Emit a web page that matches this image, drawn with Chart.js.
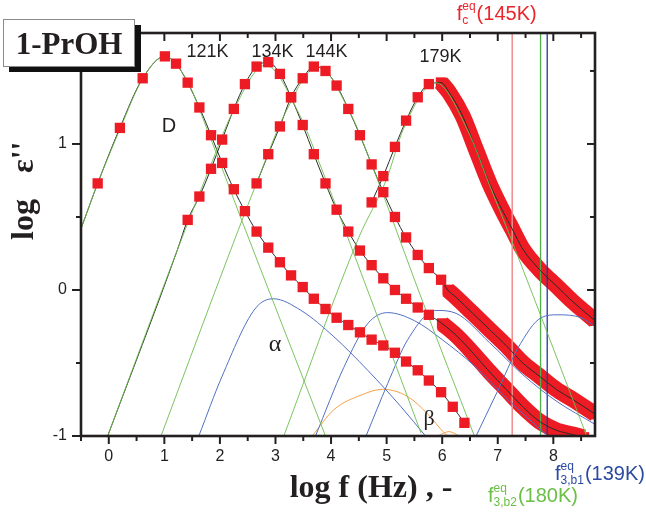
<!DOCTYPE html>
<html>
<head>
<meta charset="utf-8">
<script src="https://cdn.jsdelivr.net/npm/chart.js@4.4.1/dist/chart.umd.min.js"></script>
<style>
  html, body { margin: 0; padding: 0; background: #fff; }
  canvas { display: block; }
</style>
</head>
<body>
<canvas id="graficoEps" width="646" height="519"></canvas>
<script>
// ---- datos (log f en Hz, log eps'') ----
const freq121 = [-0.20, 0.20, 0.61, 1.01, 1.21, 1.42, 1.63, 1.84, 2.04, 2.25, 2.45, 2.66, 2.87, 3.08, 3.28, 3.49, 3.69, 3.90, 4.10, 4.31, 4.52, 4.73, 4.94, 5.15, 5.35, 5.56, 5.76, 5.98, 6.19, 6.40];
const eps121  = [0.73, 1.11, 1.45, 1.60, 1.55, 1.42, 1.25, 1.06, 0.87, 0.69, 0.54, 0.40, 0.29, 0.19, 0.10, 0.02, -0.06, -0.13, -0.19, -0.24, -0.29, -0.34, -0.38, -0.43, -0.49, -0.55, -0.62, -0.70, -0.80, -0.91];

const freq134 = [1.42, 1.63, 1.84, 2.04, 2.25, 2.45, 2.66, 2.87, 3.08, 3.28, 3.49, 3.69, 3.90, 4.10, 4.31, 4.52, 4.73, 4.94, 5.15, 5.35, 5.56, 5.76];
const eps134  = [0.48, 0.64, 0.83, 1.03, 1.24, 1.41, 1.53, 1.56, 1.48, 1.32, 1.13, 0.93, 0.73, 0.55, 0.40, 0.27, 0.17, 0.08, 0.00, -0.06, -0.12, -0.17];
const freq134Dense = [6.00, 6.25, 6.55, 6.85, 7.15, 7.45, 7.75, 8.05, 8.35, 8.55];
const eps134Dense  = [-0.23, -0.31, -0.43, -0.56, -0.68, -0.80, -0.90, -0.96, -0.99, -1.01];

const freq144 = [2.66, 2.87, 3.08, 3.28, 3.49, 3.69, 3.90, 4.10, 4.31, 4.52, 4.73, 4.94, 5.15, 5.35, 5.56, 5.76, 5.98];
const eps144  = [0.73, 0.93, 1.12, 1.32, 1.45, 1.53, 1.50, 1.40, 1.24, 1.06, 0.86, 0.67, 0.50, 0.36, 0.24, 0.15, 0.07];
const freq144Dense = [6.10, 6.25, 6.55, 6.85, 7.15, 7.45, 7.75, 8.05, 8.35, 8.75];
const eps144Dense  = [0.00, -0.05, -0.16, -0.27, -0.38, -0.50, -0.59, -0.68, -0.75, -0.85];

const freq179 = [4.73, 4.94, 5.15, 5.35, 5.56, 5.76];
const eps179  = [0.60, 0.78, 0.98, 1.16, 1.32, 1.41];
const freq179Dense = [5.98, 6.13, 6.37, 6.61, 6.85, 7.09, 7.27, 7.45, 7.75, 8.05, 8.35, 8.75];
const eps179Dense  = [1.42, 1.35, 1.19, 0.96, 0.73, 0.54, 0.41, 0.28, 0.14, 0.03, -0.08, -0.21];

// tramo del ajuste que sale fuera de los datos
const fitLeadFreq121 = [-0.49];
const fitLeadEps121  = [0.43];
const fitLeadFreq134 = [-0.02, 1.23];
const fitLeadEps134  = [-1.00, 0.27];

// componentes D (verde)
const freqD121 = [-0.49, -0.20, 0.20, 0.60, 1.00, 1.40, 1.80, 2.40, 3.90];
const epsD121  = [0.43, 0.73, 1.10, 1.44, 1.60, 1.44, 1.07, 0.47, -1.00];
const freqD134 = [-0.02, 1.23, 1.82, 2.22, 2.82, 3.42, 3.82, 4.35, 5.62];
const epsD134  = [-1.00, 0.27, 0.84, 1.21, 1.54, 1.21, 0.84, 0.31, -0.98];
const freqD144 = [0.94, 2.19, 2.76, 3.16, 3.76, 4.36, 4.76, 5.60, 6.58];
const epsD144  = [-1.00, 0.27, 0.83, 1.20, 1.53, 1.20, 0.83, -0.03, -1.00];
const freqD179 = [3.15, 4.50, 5.00, 5.30, 5.88, 6.45, 6.85, 7.25, 8.60];
const epsD179  = [-1.00, 0.36, 0.76, 1.10, 1.42, 1.10, 0.72, 0.34, -1.00];

// componentes alfa (azul)
const freqA121 = [1.62, 2.04, 2.63, 2.96, 3.46, 4.05, 4.66, 5.26, 5.70];
const epsA121  = [-1.00, -0.59, -0.13, -0.06, -0.14, -0.32, -0.55, -0.80, -1.00];
const freqA134 = [3.72, 4.23, 4.66, 5.02, 5.50, 6.00, 6.58, 7.18, 7.90];
const epsA134  = [-1.00, -0.53, -0.23, -0.155, -0.21, -0.34, -0.52, -0.75, -1.00];
const freqA144 = [4.63, 5.02, 5.38, 5.89, 6.25, 6.85, 7.45, 8.05, 8.75];
const epsA144  = [-1.00, -0.64, -0.34, -0.14, -0.16, -0.36, -0.58, -0.76, -0.92];
const freqA179 = [6.61, 7.00, 7.36, 7.78, 8.08, 8.50, 8.75];
const epsA179  = [-1.00, -0.69, -0.40, -0.19, -0.17, -0.19, -0.25];

// componentes beta (naranja)
const freqB121 = [3.66, 4.05, 4.54, 4.93, 5.38, 5.74, 6.04, 6.10];
const epsB121  = [-1.00, -0.82, -0.72, -0.68, -0.73, -0.85, -0.98, -1.00];
const freqB134 = [5.92, 6.12, 6.31];
const epsB134  = [-1.00, -0.97, -1.00];

// frecuencias caracteristicas (lineas verticales)
const markerFreqs = [7.26, 7.77, 7.89];

const xTicks = [0, 1, 2, 3, 4, 5, 6, 7, 8];
const xMinorTicks = [-0.5, 0.5, 1.5, 2.5, 3.5, 4.5, 5.5, 6.5, 7.5, 8.5];
const yTicks = [-1, 0, 1];
const yMinorTicks = [-0.5, 0.5, 1.5];

const pts = (xs, ys) => xs.map((x, i) => ({ x: x, y: ys[i] }));

const ROJO = '#ed1c24';
const VERDE = 'rgba(110,190,80,0.9)';
const AZUL = '#5270c2';
const NARANJA = '#f5a04c';

// order: numero menor se pinta encima
function curva(xs, ys, color, order) {
    return {
        data: pts(xs, ys), showLine: true, borderColor: color, borderWidth: 1,
        pointRadius: 0, pointHoverRadius: 0, cubicInterpolationMode: 'monotone',
        clip: 0, order: order
    };
}
function cuadros(xs, ys) {
    return {
        data: pts(xs, ys), showLine: false, pointStyle: 'rect', pointRadius: 7.3,
        pointBackgroundColor: ROJO, pointBorderWidth: 0, clip: 0, order: 1
    };
}
function banda(xs, ys) {
    return {
        data: pts(xs, ys), showLine: true, borderColor: ROJO, borderWidth: 16,
        borderJoinStyle: 'round', cubicInterpolationMode: 'monotone',
        pointStyle: 'rect', pointRadius: 7.5, pointBackgroundColor: ROJO, pointBorderWidth: 0,
        clip: 0, order: 5
    };
}
function marcador(f, color, width) {
    return {
        data: [{ x: f, y: -1 }, { x: f, y: 1.76 }], showLine: true, borderColor: color,
        borderWidth: width, pointRadius: 0, tension: 0, clip: 0, order: 4
    };
}

const datasets = [
    curva(freqD121, epsD121, VERDE, 2),
    curva(freqD134, epsD134, VERDE, 2),
    curva(freqD144, epsD144, VERDE, 2),
    curva(freqD179, epsD179, VERDE, 2),
    curva(freqA121, epsA121, AZUL, 2),
    curva(freqA134, epsA134, AZUL, 2),
    curva(freqA144, epsA144, AZUL, 2),
    curva(freqA179, epsA179, AZUL, 2),
    curva(freqB121, epsB121, NARANJA, 2),
    curva(freqB134, epsB134, NARANJA, 2),
    // ajustes
    curva(fitLeadFreq121.concat(freq121), fitLeadEps121.concat(eps121), '#2a2a2a', 3),
    curva(fitLeadFreq134.concat(freq134, freq134Dense), fitLeadEps134.concat(eps134, eps134Dense), '#2a2a2a', 3),
    curva(freq144.concat(freq144Dense), eps144.concat(eps144Dense), '#2a2a2a', 3),
    curva(freq179.concat(freq179Dense), eps179.concat(eps179Dense), '#2a2a2a', 3),
    marcador(markerFreqs[0], '#f08c8c', 1.5),
    marcador(markerFreqs[1], '#4dae48', 1.3),
    marcador(markerFreqs[2], '#1c3c9c', 1.3),
    cuadros(freq121, eps121),
    cuadros(freq134, eps134),
    cuadros(freq144, eps144),
    cuadros(freq179, eps179),
    banda(freq134Dense, eps134Dense),
    banda(freq144Dense, eps144Dense),
    banda(freq179Dense, eps179Dense)
];

const NEGRO = '#231f20';

// marco con marcas mayores y menores en los cuatro lados
const marcoPlugin = {
    id: 'marco',
    afterDatasetsDraw(chart) {
        const { ctx, chartArea: a, scales: { x, y } } = chart;
        ctx.save();
        ctx.strokeStyle = NEGRO;
        ctx.lineWidth = 2;
        const linea = (x1, y1, x2, y2) => { ctx.beginPath(); ctx.moveTo(x1, y1); ctx.lineTo(x2, y2); ctx.stroke(); };
        xTicks.forEach(v => {
            const p = x.getPixelForValue(v);
            linea(p, a.bottom, p, a.bottom + 8);
            linea(p, a.top, p, a.top + 8);
        });
        xMinorTicks.forEach(v => {
            const p = x.getPixelForValue(v);
            linea(p, a.bottom, p, a.bottom + 5);
            linea(p, a.top, p, a.top + 5);
        });
        yTicks.forEach(v => {
            const p = y.getPixelForValue(v);
            linea(a.left - 9, p, a.left, p);
            linea(a.right - 8, p, a.right, p);
        });
        yMinorTicks.forEach(v => {
            const p = y.getPixelForValue(v);
            linea(a.left - 5, p, a.left, p);
            linea(a.right - 5, p, a.right, p);
        });
        ctx.lineWidth = 2.6;
        ctx.strokeRect(a.left, a.top, a.right - a.left, a.bottom - a.top);
        ctx.restore();
    }
};

function etiquetaF(ctx, x, base, color, sup, sub, resto) {
    ctx.fillStyle = color;
    ctx.textAlign = 'left';
    ctx.textBaseline = 'alphabetic';
    ctx.font = '20px "Liberation Sans"';
    ctx.fillText('f', x, base);
    const fw = ctx.measureText('f').width;
    ctx.font = '12px "Liberation Sans"';
    ctx.fillText(sup, x + fw, base - 10);
    ctx.fillText(sub, x + fw, base + 4);
    const w = Math.max(ctx.measureText(sup).width, ctx.measureText(sub).width);
    ctx.font = '20px "Liberation Sans"';
    ctx.fillText(resto, x + fw + w + 1, base);
}

// textos: titulo, ejes, etiquetas de picos y frecuencias
const textosPlugin = {
    id: 'textos',
    afterDraw(chart) {
        const ctx = chart.ctx;
        ctx.save();
        // recuadro 1-PrOH con sombra
        ctx.fillStyle = '#111';
        ctx.fillRect(9, 25, 132, 47);
        ctx.fillStyle = '#fff';
        ctx.fillRect(3, 19, 131, 47);
        ctx.strokeStyle = '#8a8a8a';
        ctx.lineWidth = 1;
        ctx.strokeRect(3.5, 19.5, 131, 47);
        ctx.fillStyle = NEGRO;
        ctx.font = 'bold 31px "Liberation Serif"';
        ctx.textAlign = 'center';
        ctx.textBaseline = 'alphabetic';
        ctx.fillText('1-PrOH', 69, 54);

        // titulo eje x
        ctx.font = 'bold 32px "Liberation Serif"';
        ctx.fillText('log f (Hz) , -', 371, 497);

        // titulo eje y
        ctx.save();
        ctx.translate(33, 240);
        ctx.rotate(-Math.PI / 2);
        ctx.textAlign = 'left';
        ctx.fillText('log', 0, 0);
        ctx.fillText("\u03B5''", 67, 0);
        ctx.restore();

        // temperaturas
        ctx.font = '18px "Liberation Sans"';
        ctx.textBaseline = 'middle';
        ctx.textAlign = 'center';
        ctx.fillText('121K', 207.5, 52);
        ctx.fillText('134K', 272.5, 52);
        ctx.fillText('144K', 326.5, 52.5);
        ctx.fillText('179K', 440.5, 57.5);
        ctx.font = '20px "Liberation Sans"';
        ctx.fillText('D', 169, 126);
        ctx.textBaseline = 'alphabetic';
        ctx.font = '24px "Liberation Serif"';
        ctx.fillText('\u03B1', 275, 351);
        ctx.font = '22px "Liberation Serif"';
        ctx.fillText('\u03B2', 429, 425);

        etiquetaF(ctx, 456.7, 20, '#e8262c', 'eq', 'c', '(145K)');
        etiquetaF(ctx, 555, 480, '#2b4aa0', 'eq', '3,b1', '(139K)');
        etiquetaF(ctx, 488, 502, '#6abf45', 'eq', '3,b2', '(180K)');
        ctx.restore();
    }
};

Chart.defaults.font.family = '"Liberation Sans", Arial, sans-serif';

new Chart(document.getElementById('graficoEps').getContext('2d'), {
    type: 'scatter',
    data: { datasets: datasets },
    options: {
        responsive: false,
        animation: false,
        layout: { padding: { left: 0, top: 33, right: 51, bottom: 0 } },
        plugins: { legend: { display: false }, tooltip: { enabled: false } },
        scales: {
            x: {
                type: 'linear', min: -0.5, max: 8.75,
                grid: { display: false, drawTicks: false }, border: { display: false },
                ticks: { padding: 11, color: NEGRO, font: { size: 16 }, maxRotation: 0, autoSkip: false },
                afterBuildTicks: s => { s.ticks = xTicks.map(v => ({ value: v })); },
                afterFit: s => { s.height = 83; }
            },
            y: {
                type: 'linear', min: -1, max: 1.76,
                grid: { display: false, drawTicks: false }, border: { display: false },
                ticks: { padding: 14, color: NEGRO, font: { size: 16 }, autoSkip: false },
                afterBuildTicks: s => { s.ticks = yTicks.map(v => ({ value: v })); },
                afterFit: s => { s.width = 81; }
            }
        }
    },
    plugins: [marcoPlugin, textosPlugin]
});
</script>
</body>
</html>
